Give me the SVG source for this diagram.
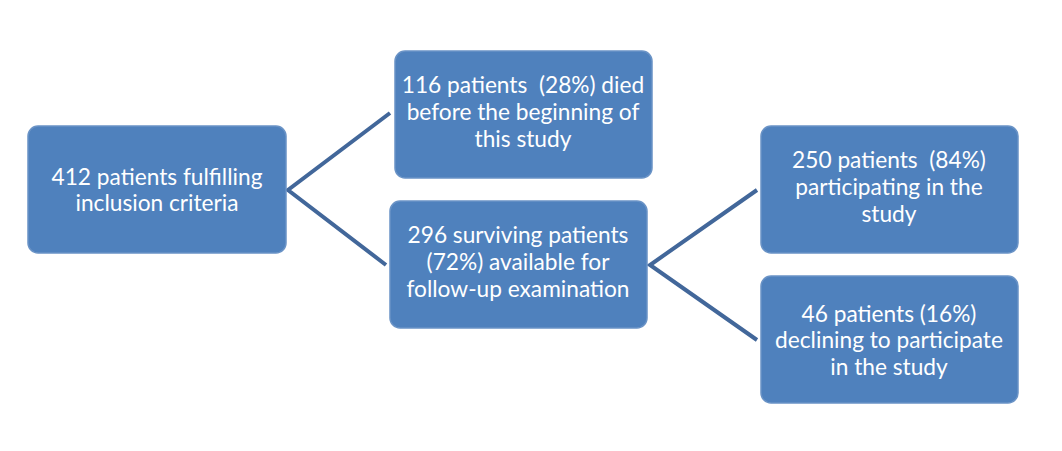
<svg xmlns="http://www.w3.org/2000/svg" width="1062" height="451" viewBox="0 0 1062 451">
<style>
.box{fill:#4f81bd;stroke:#6a93c6;stroke-width:1.5}
.t{font-family:Lato,"Liberation Sans",sans-serif;font-size:22.7px;fill:#ffffff;text-anchor:middle;white-space:pre}
.c{stroke:#42679a;stroke-width:4;fill:none;stroke-linecap:butt;stroke-linejoin:miter}
</style>
<rect width="1062" height="451" fill="#ffffff"/>
<g id="connectors">
<polyline class="c" points="390,113 288,190 386,265"/>
<polyline class="c" points="757,190 650,265 757,340"/>
</g>
<g id="n1">
<rect class="box" x="28" y="126" width="258" height="127" rx="10"/>
<text class="t" x="157" y="185">412 patients fulfilling</text>
<text class="t" x="157" y="211">inclusion criteria</text>
</g>
<g id="n2">
<rect class="box" x="395" y="51" width="257" height="127" rx="10"/>
<text class="t" x="523" y="93">116 patients  (28%) died</text>
<text class="t" x="523" y="120">before the beginning of</text>
<text class="t" x="523" y="147">this study</text>
</g>
<g id="n3">
<rect class="box" x="390" y="201" width="257" height="127" rx="10"/>
<text class="t" x="518" y="243">296 surviving patients</text>
<text class="t" x="518" y="270">(72%) available for</text>
<text class="t" x="518" y="297">follow-up examination</text>
</g>
<g id="n4">
<rect class="box" x="761" y="126" width="257" height="127" rx="10"/>
<text class="t" x="889" y="168">250 patients  (84%)</text>
<text class="t" x="889" y="195">participating in the</text>
<text class="t" x="889" y="222">study</text>
</g>
<g id="n5">
<rect class="box" x="761" y="276" width="257" height="127" rx="10"/>
<text class="t" x="889" y="322">46 patients (16%)</text>
<text class="t" x="889" y="348">declining to participate</text>
<text class="t" x="889" y="375">in the study</text>
</g>
</svg>
